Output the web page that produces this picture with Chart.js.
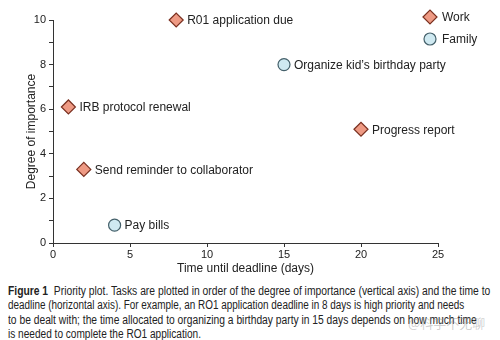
<!DOCTYPE html>
<html>
<head>
<meta charset="utf-8">
<script src="https://cdn.jsdelivr.net/npm/chart.js@4"></script>
<style>
  html, body { margin: 0; padding: 0; background: #fff; }
  #wrap { position: relative; width: 500px; height: 340px; overflow: hidden; }
  #plot { position: absolute; left: 0; top: 0; width: 500px; height: 280px; }
  .cap { position: absolute; left: 8px; font: 12px "Liberation Sans", Arial, sans-serif; color: #222;
         white-space: nowrap; transform-origin: 0 50%; line-height: 14px; }
  .cap b { font-weight: bold; }
  #wm { position: absolute; left: 408px; top: 313px; font: 13px "Noto Sans CJK SC", sans-serif;
        color: rgba(150,150,150,0.45); white-space: nowrap; }
</style>
</head>
<body>
<div id="wrap">
  <div id="plot"><canvas id="chart" width="500" height="280"></canvas></div>
  <div class="cap" id="c1" style="top:284px"><b>Figure 1</b>&nbsp; Priority plot. Tasks are plotted in order of the degree of importance (vertical axis) and the time to</div>
  <div class="cap" id="c2" style="top:298px">deadline (horizontal axis). For example, an RO1 application deadline in 8 days is high priority and needs</div>
  <div class="cap" id="c3" style="top:313px">to be dealt with; the time allocated to organizing a birthday party in 15 days depends on how much time</div>
  <div class="cap" id="c4" style="top:327px">is needed to complete the RO1 application.</div>
  <div id="wm">@科学不无聊</div>
</div>
<script>
/* ---- data ---- */
const workTasks = ["R01 application due", "IRB protocol renewal", "Progress report", "Send reminder to collaborator"];
const workDays = [8, 1, 20, 2];
const workImportance = [10, 6.1, 5.1, 3.3];

const familyTasks = ["Organize kid\u2019s birthday party", "Pay bills"];
const familyDays = [15, 4];
const familyImportance = [8, 0.8];

const seriesNames = ["Work", "Family"];
const xTicks = [0, 5, 10, 15, 20, 25];
const yLabelled = [0, 2, 4, 6, 8, 10];

const INK = "#222";
const FONT = "'Liberation Sans', Arial, sans-serif";

const WORK = { fill: "#ee9a84", line: "#7a3020", style: "rectRot", r: 7 };
const FAMILY = { fill: "#cfe9f1", line: "#44606a", style: "circle", r: 6 };

function toPoints(xs, ys) {
  return xs.map((x, i) => ({ x, y: ys[i] }));
}

/* labels beside each point */
const pointLabels = {
  id: "pointLabels",
  afterDatasetsDraw(chart) {
    const ctx = chart.ctx;
    ctx.save();
    ctx.font = "12px " + FONT;
    ctx.fillStyle = INK;
    ctx.textBaseline = "middle";
    chart.data.datasets.forEach((ds, di) => {
      chart.getDatasetMeta(di).data.forEach((el, i) => {
        ctx.fillText(ds.names[i], el.x + ds.pointRadius + 4, el.y + 1);
      });
    });
    ctx.restore();
  },
};

/* legend in the top right corner */
const cornerLegend = {
  id: "cornerLegend",
  afterDraw(chart) {
    const ctx = chart.ctx;
    ctx.save();
    ctx.font = "12px " + FONT;
    ctx.textBaseline = "middle";
    chart.data.datasets.forEach((ds, i) => {
      const cx = 430, cy = 17 + i * 22;
      ctx.fillStyle = ds.backgroundColor;
      ctx.strokeStyle = ds.borderColor;
      ctx.lineWidth = ds.borderWidth;
      Chart.helpers.drawPoint(ctx, { pointStyle: ds.pointStyle, radius: ds.pointRadius, borderWidth: ds.borderWidth }, cx, cy);
      ctx.fillStyle = INK;
      ctx.fillText(ds.label, 442, cy + 1);
    });
    ctx.restore();
  },
};

function makeSet(label, names, xs, ys, st) {
  return {
    label,
    names,
    data: toPoints(xs, ys),
    pointStyle: st.style,
    pointRadius: st.r,
    pointHoverRadius: st.r,
    backgroundColor: st.fill,
    borderColor: st.line,
    borderWidth: 1.2,
    clip: false,
  };
}

new Chart(document.getElementById("chart"), {
  type: "scatter",
  data: {
    datasets: [
      makeSet(seriesNames[0], workTasks, workDays, workImportance, WORK),
      makeSet(seriesNames[1], familyTasks, familyDays, familyImportance, FAMILY),
    ],
  },
  options: {
    responsive: false,
    animation: false,
    events: [],
    layout: { padding: { top: 20, right: 62, left: 0, bottom: 0 } },
    plugins: { legend: { display: false }, tooltip: { enabled: false } },
    scales: {
      x: {
        type: "linear",
        min: 0,
        max: 25,
        afterFit: (s) => { s.height = 37; },
        afterBuildTicks: (s) => { s.ticks = xTicks.map((v) => ({ value: v })); },
        border: { color: "#333", width: 1 },
        grid: { drawOnChartArea: false, tickLength: 4, color: "#333" },
        ticks: { color: INK, font: { family: FONT, size: 11 }, padding: 1, maxRotation: 0 },
        title: { display: true, text: "Time until deadline (days)", color: INK, font: { family: FONT, size: 12 }, padding: { top: 0, bottom: 4 } },
      },
      y: {
        type: "linear",
        min: 0,
        max: 10,
        afterFit: (s) => { s.width = 53; },
        ticks: {
          stepSize: 1,
          color: INK,
          font: { family: FONT, size: 11 },
          padding: 3,
          callback: (v) => (yLabelled.includes(v) ? String(v) : ""),
        },
        border: { color: "#333", width: 1 },
        grid: { drawOnChartArea: false, tickLength: 4, color: "#333" },
        title: { display: true, text: "Degree of importance", color: INK, font: { family: FONT, size: 12 }, padding: { top: 24, bottom: 0 } },
      },
    },
  },
  plugins: [pointLabels, cornerLegend],
});

/* squeeze caption lines to the width of the condensed original face */
const capEnds = { c1: 490, c2: 464, c3: 477, c4: 201 };
Object.keys(capEnds).forEach((id) => {
  const el = document.getElementById(id);
  const w = el.getBoundingClientRect().width;
  el.style.transform = "scaleX(" + ((capEnds[id] - 8) / w).toFixed(3) + ")";
});
</script>
</body>
</html>
